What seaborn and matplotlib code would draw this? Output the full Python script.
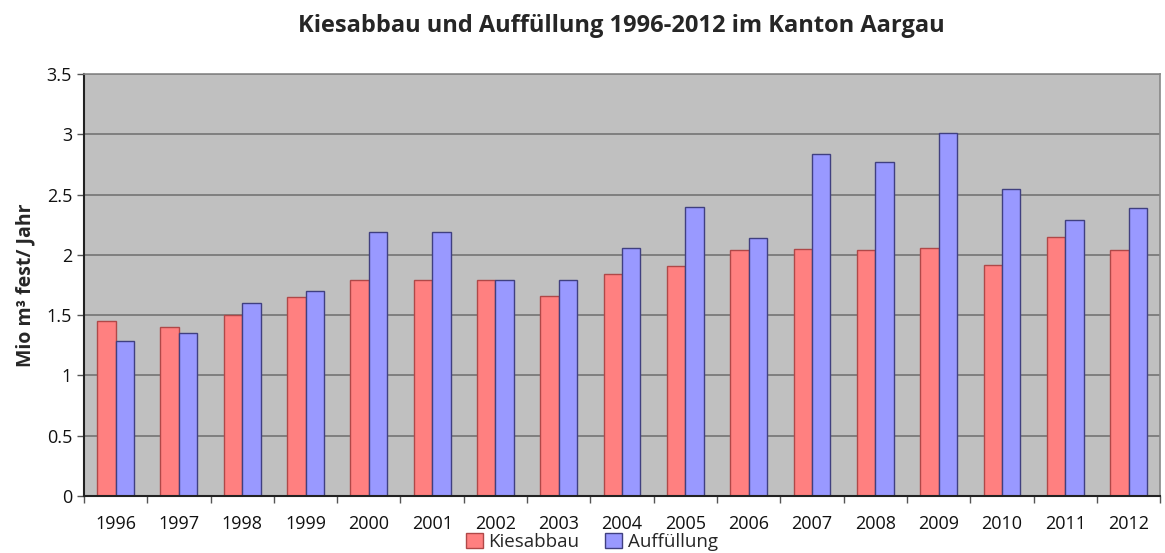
import pandas as pd
import matplotlib.pyplot as plt
import seaborn as sns

jahre = [str(j) for j in range(1996, 2013)]
kiesabbau = [1.45, 1.40, 1.50, 1.65, 1.79, 1.79, 1.79, 1.66, 1.84, 1.91, 2.04, 2.05, 2.04, 2.06, 1.92, 2.15, 2.04]
auffuellung = [1.29, 1.35, 1.60, 1.70, 2.19, 2.19, 1.79, 1.79, 2.06, 2.40, 2.14, 2.84, 2.77, 3.01, 2.55, 2.29, 2.39]
serien = ["Kiesabbau", "Auffüllung"]

df = pd.DataFrame({
    "Jahr": jahre * 2,
    "Wert": kiesabbau + auffuellung,
    "Serie": [serien[0]] * len(jahre) + [serien[1]] * len(jahre),
})

sns.set_theme(style="white")
plt.rcParams["font.family"] = ["Open Sans", "DejaVu Sans"]

farben = {"Kiesabbau": "#FF8080", "Auffüllung": "#9999FF"}
kanten = {"Kiesabbau": "#B04848", "Auffüllung": "#404080"}

fig = plt.figure(figsize=(11.65, 5.53), dpi=100)
ax = fig.add_axes([0.072, 0.103, 0.924, 0.763])
sns.barplot(data=df, x="Jahr", y="Wert", hue="Serie", palette=farben,
            width=0.58, gap=0, ax=ax, saturation=1)

for container, serie in zip(ax.containers, serien):
    for patch in container:
        patch.set_edgecolor(kanten[serie])
        patch.set_linewidth(1.0)

ax.set_facecolor("#C0C0C0")
ax.set_ylim(0, 3.5)
ax.set_yticks([0, 0.5, 1, 1.5, 2, 2.5, 3, 3.5])
ax.set_yticklabels(["0", "0.5", "1", "1.5", "2", "2.5", "3", "3.5"])
ax.set_xlim(-0.5, len(jahre) - 0.5)
ax.yaxis.grid(True, color="#7A7A7A", linewidth=1.3)
ax.set_axisbelow(True)

ax.set_xticks([i + 0.5 for i in range(-1, len(jahre))], minor=True)
ax.tick_params(axis="x", which="major", length=0, pad=14, labelsize=13, colors="#111111")
ax.tick_params(axis="x", which="minor", length=5, width=1, color="#555555", bottom=True)
ax.tick_params(axis="y", which="major", length=5, width=1, color="#555555", left=True,
               labelsize=13, colors="#111111")

for s in ["left", "bottom"]:
    ax.spines[s].set_color("#222222")
    ax.spines[s].set_linewidth(1.5)
for s in ["top", "right"]:
    ax.spines[s].set_color("#888888")
    ax.spines[s].set_linewidth(1.2)

ax.set_xlabel("")
ax.set_ylabel("Mio m³ fest/ Jahr", fontsize=14, fontweight="bold", labelpad=8)
fig.suptitle("Kiesabbau und Auffüllung 1996-2012 im Kanton Aargau",
             fontsize=17, fontweight="bold", x=0.533, y=0.975)

handles, labels = ax.get_legend_handles_labels()
ax.get_legend().remove()
for h, serie in zip(handles, serien):
    h.set_edgecolor(kanten[serie])
fig.legend(handles, labels, loc="lower center", bbox_to_anchor=(0.508, 0.004),
           ncol=2, frameon=False, fontsize=13.5, handlelength=0.9, handleheight=0.9,
           handletextpad=0.3, columnspacing=1.4, borderaxespad=0, borderpad=0)

fig.savefig("out.png", dpi=100)
